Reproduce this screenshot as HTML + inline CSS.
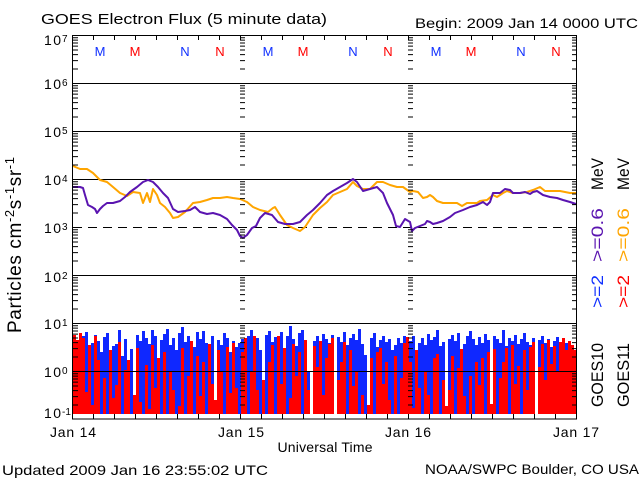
<!DOCTYPE html>
<html><head><meta charset="utf-8"><style>
html,body{margin:0;padding:0;background:#fff;}
svg{display:block;}
text{font-family:"Liberation Sans",sans-serif;}
</style></head><body>
<svg width="640" height="480" viewBox="0 0 640 480" xmlns="http://www.w3.org/2000/svg">
<defs>
<path id="mt" d="M0,-14.45h5M0,-22.9h5M0,-28.9h5M0,-33.55h5M0,-37.35h5M0,-40.56h5M0,-43.35h5M0,-45.8h5" stroke="#000" stroke-width="1" fill="none"/>
</defs>
<rect width="640" height="480" fill="#fff"/>

<!-- blue bars (GOES10 >=2) -->
<path fill="#0f28ff" d="M73,414V395h3V398h3V340h3V336h3V332h3V358h3V343h3V335h3V341h3V352h3V337h3V333h3V414h3V346h3V344h3V330h3V356h3V339h3V362h3V349h3V414h3V335h3V341h3V331h3V338h3V344h3V330h3V336h3V414h3V340h3V334h3V329h3V345h3V338h3V350h3V333h3V327h3V342h3V336h3V414h3V347h3V332h3V339h3V331h3V343h3V350h3V336h3V414h3V340h3V345h3V333h3V338h3V352h3V341h3V347h3V343h3V339h3V345h3V336h3V330h3V343h3V338h3V350h3V414h3V335h3V331h3V342h3V337h3V345h3V332h3V360h3V336h3V326h3V339h3V346h3V333h3V330h3V344h3V372h3V414h3V341h3V336h3V349h3V334h3V339h3V343h3V335h3V414h3V337h3V342h3V332h3V345h3V338h3V334h3V340h3V329h3V344h3V355h3V414h3V338h3V333h3V347h3V340h3V336h3V342h3V339h3V350h3V345h3V338h3V343h3V336h3V347h3V341h3V336h3V414h3V343h3V338h3V345h3V334h3V340h3V337h3V330h3V346h3V342h3V414h3V339h3V335h3V341h3V333h3V360h3V344h3V336h3V331h3V339h3V345h3V337h3V343h3V334h3V340h3V414h3V336h3V339h3V343h3V330h3V346h3V338h3V341h3V335h3V344h3V339h3V333h3V342h3V345h3V338h3V414h3V340h3V336h3V343h3V339h3V347h3V341h3V337h3V345h3V339h3V343h3V348h3V346h3V350h3V414Z"/>

<!-- red bars (GOES11 >=2) -->
<path fill="#ff0000" d="M73,414V335h3V340h3V333h3V338h3V392h3V345h3V405h3V336h3V360h3V414h3V378h3V414h3V350h3V398h3V385h3V342h3V414h3V370h3V360h3V414h3V395h3V348h3V402h3V414h3V365h3V409h3V345h3V388h3V358h3V414h3V352h3V414h3V372h3V390h3V414h3V406h3V348h3V414h3V376h3V341h3V414h3V356h3V396h3V362h3V414h3V344h3V384h3V400h3V350h3V372h3V414h3V347h3V393h3V343h3V388h3V414h3V352h3V338h3V414h3V371h3V336h3V390h3V414h3V380h3V414h3V362h3V345h3V414h3V336h3V384h3V348h3V414h3V398h3V344h3V376h3V352h3V414h3V340h3V390h3V414h3V346h3V367h3V341h3V395h3V358h3V344h3V338h3V414h3V380h3V362h3V342h3V414h3V350h3V386h3V372h3V414h3V395h3V414h3V405h3V358h3V414h3V352h3V348h3V384h3V362h3V400h3V414h3V356h3V414h3V378h3V343h3V337h3V362h3V408h3V350h3V388h3V414h3V372h3V395h3V414h3V358h3V354h3V414h3V380h3V406h3V390h3V356h3V414h3V368h3V349h3V396h3V414h3V376h3V414h3V362h3V385h3V358h3V414h3V352h3V404h3V349h3V414h3V378h3V362h3V348h3V414h3V345h3V384h3V366h3V414h3V350h3V390h3V347h3V342h3V414h3V367h3V344h3V380h3V340h3V364h3V346h3V372h3V342h3V338h3V350h3V341h3V345h3V350h3V414Z"/>

<!-- decade lines -->
<path d="M73,83.5H577M73,131.5H577M73,179.5H577M73,275.5H577M73,323.5H577M73,371.5H577" stroke="#000" stroke-width="1" fill="none"/>
<path d="M73,227.5H577" stroke="#000" stroke-width="1" stroke-dasharray="9,6" fill="none"/>

<!-- orange >=0.6 GOES11 -->
<polyline fill="none" stroke="#ffa500" stroke-width="2" stroke-linejoin="round" points="73,166 80,169 87,169 93,173 100,180 107,182 113,187 120,193 127,196 133,192 140,193 143,203 147,193 150,202 153,189 157,195 160,203 165,207 170,213 173,218 178,217 185,212 193,203 200,202 207,200 213,198 220,198 227,197 233,198 240,199 247,202 253,207 260,210 268,212 273,208 275,207 280,215 287,225 293,228 300,231 305,227 313,215 320,208 327,202 333,195 340,192 347,189 353,182 357,186 363,189 370,189 377,182 383,182 390,185 397,187 403,187 410,192 413,191 418,192 423,198 427,197 430,195 433,197 437,201 443,203 450,203 457,203 462,206 467,203 477,203 480,201 487,200 493,195 497,197 503,193 507,191 513,193 520,193 527,192 533,190 540,187 545,191 553,191 560,191 570,193 576,193"/>

<!-- purple >=0.6 GOES10 -->
<polyline fill="none" stroke="#5a14b0" stroke-width="2" stroke-linejoin="round" points="73,187 80,187 83,188 85,195 88,205 92,207 95,209 97,213 100,209 103,206 107,203 113,203 120,201 125,197 130,192 137,187 143,182 148,180 153,182 158,187 163,193 168,198 173,209 178,212 185,211 190,210 195,207 200,212 207,214 213,213 220,215 227,219 232,225 237,230 240,236 243,238 247,235 252,228 256,226 260,218 265,213 272,215 278,222 285,224 293,224 300,222 307,215 313,210 320,203 327,195 333,191 340,187 347,183 353,179 357,182 363,191 370,189 377,187 383,193 387,203 393,215 396,226 400,227 405,219 410,222 412,231 415,228 420,226 425,224 427,221 430,222 433,224 437,223 443,221 450,217 455,213 463,210 470,207 477,205 483,202 487,205 490,202 493,193 500,193 505,189 510,190 513,193 520,193 525,192 530,194 533,192 537,191 543,195 550,197 557,198 563,200 570,202 576,204"/>

<!-- minor log ticks: left axis -->
<use href="#mt" transform="translate(73,83.5)"/><use href="#mt" transform="translate(73,131.5)"/><use href="#mt" transform="translate(73,179.5)"/><use href="#mt" transform="translate(73,227.5)"/><use href="#mt" transform="translate(73,275.5)"/><use href="#mt" transform="translate(73,323.5)"/><use href="#mt" transform="translate(73,371.5)"/><use href="#mt" transform="translate(73,419.5)"/>
<!-- right axis -->
<use href="#mt" transform="translate(577,83.5) scale(-1,1)"/><use href="#mt" transform="translate(577,131.5) scale(-1,1)"/><use href="#mt" transform="translate(577,179.5) scale(-1,1)"/><use href="#mt" transform="translate(577,227.5) scale(-1,1)"/><use href="#mt" transform="translate(577,275.5) scale(-1,1)"/><use href="#mt" transform="translate(577,323.5) scale(-1,1)"/><use href="#mt" transform="translate(577,371.5) scale(-1,1)"/><use href="#mt" transform="translate(577,419.5) scale(-1,1)"/>
<!-- Jan 15 divider -->
<use href="#mt" transform="translate(240,83.5)"/><use href="#mt" transform="translate(240,131.5)"/><use href="#mt" transform="translate(240,179.5)"/><use href="#mt" transform="translate(240,227.5)"/><use href="#mt" transform="translate(240,275.5)"/><use href="#mt" transform="translate(240,323.5)"/><use href="#mt" transform="translate(240,371.5)"/><use href="#mt" transform="translate(240,419.5)"/>
<!-- Jan 16 divider -->
<use href="#mt" transform="translate(408,83.5)"/><use href="#mt" transform="translate(408,131.5)"/><use href="#mt" transform="translate(408,179.5)"/><use href="#mt" transform="translate(408,227.5)"/><use href="#mt" transform="translate(408,275.5)"/><use href="#mt" transform="translate(408,323.5)"/><use href="#mt" transform="translate(408,371.5)"/><use href="#mt" transform="translate(408,419.5)"/>

<!-- time ticks top & bottom -->
<path stroke="#000" stroke-width="1" fill="none" d="M93.5,419v-5M114.5,419v-5M135.5,419v-5M156.5,419v-5M177.5,419v-5M198.5,419v-5M219.5,419v-5M240.5,419v-5M261.5,419v-5M282.5,419v-5M303.5,419v-5M324.5,419v-5M345.5,419v-5M366.5,419v-5M387.5,419v-5M408.5,419v-5M429.5,419v-5M450.5,419v-5M471.5,419v-5M492.5,419v-5M513.5,419v-5M534.5,419v-5M555.5,419v-5M93.5,35v5M114.5,35v5M135.5,35v5M156.5,35v5M177.5,35v5M198.5,35v5M219.5,35v5M240.5,35v5M261.5,35v5M282.5,35v5M303.5,35v5M324.5,35v5M345.5,35v5M366.5,35v5M387.5,35v5M408.5,35v5M429.5,35v5M450.5,35v5M471.5,35v5M492.5,35v5M513.5,35v5M534.5,35v5M555.5,35v5"/>

<!-- frame -->
<rect x="72.5" y="35.5" width="504" height="383.5" fill="none" stroke="#000" stroke-width="1"/>

<!-- Title / header -->
<text x="41" y="24" font-size="15" textLength="286" lengthAdjust="spacingAndGlyphs">GOES Electron Flux (5 minute data)</text>
<text x="415" y="28" font-size="14" textLength="223" lengthAdjust="spacingAndGlyphs">Begin: 2009 Jan 14 0000 UTC</text>

<!-- M/N markers -->
<g font-size="13" text-anchor="middle">
<text x="100" y="56" fill="#1030ff">M</text><text x="135" y="56" fill="#ff0000">M</text><text x="185" y="56" fill="#1030ff">N</text><text x="220" y="56" fill="#ff0000">N</text>
<text x="268" y="56" fill="#1030ff">M</text><text x="303" y="56" fill="#ff0000">M</text><text x="353" y="56" fill="#1030ff">N</text><text x="388" y="56" fill="#ff0000">N</text>
<text x="436" y="56" fill="#1030ff">M</text><text x="471" y="56" fill="#ff0000">M</text><text x="521" y="56" fill="#1030ff">N</text><text x="556" y="56" fill="#ff0000">N</text>
</g>

<!-- Y tick labels -->
<g font-size="14">
<text x="44" y="45" textLength="17" lengthAdjust="spacing">10</text>
<text x="44" y="89" textLength="17" lengthAdjust="spacing">10</text>
<text x="44" y="137" textLength="17" lengthAdjust="spacing">10</text>
<text x="44" y="185" textLength="17" lengthAdjust="spacing">10</text>
<text x="44" y="233" textLength="17" lengthAdjust="spacing">10</text>
<text x="44" y="282" textLength="17" lengthAdjust="spacing">10</text>
<text x="44" y="329" textLength="17" lengthAdjust="spacing">10</text>
<text x="44" y="377" textLength="17" lengthAdjust="spacing">10</text>
<text x="44" y="418" textLength="17" lengthAdjust="spacing">10</text>
</g>
<g font-size="10">
<text x="62" y="42">7</text>
<text x="62" y="86">6</text>
<text x="62" y="134">5</text>
<text x="62" y="182">4</text>
<text x="62" y="230">3</text>
<text x="62" y="279">2</text>
<text x="62" y="326">1</text>
<text x="62" y="374">0</text>
<text x="62" y="415">-1</text>
</g>

<!-- Y axis title -->
<text transform="translate(21,333) rotate(-90)" font-size="19" textLength="176" lengthAdjust="spacing">Particles cm<tspan dy="-7" font-size="13">-2</tspan><tspan dy="7">s</tspan><tspan dy="-7" font-size="13">-1</tspan><tspan dy="7">sr</tspan><tspan dy="-7" font-size="13">-1</tspan></text>

<!-- X tick labels -->
<g font-size="14" text-anchor="middle">
<text x="73" y="437" textLength="46" lengthAdjust="spacing">Jan 14</text>
<text x="241" y="437" textLength="46" lengthAdjust="spacing">Jan 15</text>
<text x="408" y="437" textLength="46" lengthAdjust="spacing">Jan 16</text>
<text x="576" y="437" textLength="46" lengthAdjust="spacing">Jan 17</text>
<text x="325" y="452" textLength="95" lengthAdjust="spacing">Universal Time</text>
</g>

<!-- Footer -->
<text x="2" y="475" font-size="14" textLength="266" lengthAdjust="spacingAndGlyphs">Updated 2009 Jan 16 23:55:02 UTC</text>
<text x="425" y="474" font-size="14" textLength="214" lengthAdjust="spacingAndGlyphs">NOAA/SWPC Boulder, CO USA</text>

<!-- Right side legends -->
<g font-size="17">
<text transform="translate(603,407) rotate(-90)" textLength="64" lengthAdjust="spacingAndGlyphs">GOES10</text>
<text transform="translate(603,308) rotate(-90)" textLength="33" lengthAdjust="spacingAndGlyphs" fill="#1030ff">&gt;=2</text>
<text transform="translate(603,262) rotate(-90)" textLength="54" lengthAdjust="spacingAndGlyphs" fill="#5a14b0">&gt;=0.6</text>
<text transform="translate(603,190) rotate(-90)" textLength="32" lengthAdjust="spacingAndGlyphs">MeV</text>
<text transform="translate(629,407) rotate(-90)" textLength="64" lengthAdjust="spacingAndGlyphs">GOES11</text>
<text transform="translate(629,308) rotate(-90)" textLength="33" lengthAdjust="spacingAndGlyphs" fill="#ff0000">&gt;=2</text>
<text transform="translate(629,262) rotate(-90)" textLength="54" lengthAdjust="spacingAndGlyphs" fill="#ffa500">&gt;=0.6</text>
<text transform="translate(629,190) rotate(-90)" textLength="32" lengthAdjust="spacingAndGlyphs">MeV</text>
</g>
</svg>
</body></html>
